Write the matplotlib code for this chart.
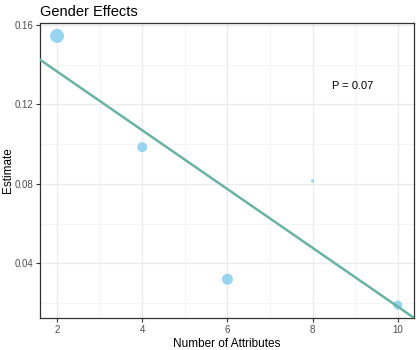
import numpy as np
import matplotlib
matplotlib.use("Agg")
import matplotlib.pyplot as plt

plt.rcParams['font.family'] = ['Liberation Sans', 'DejaVu Sans']

# data
n_attributes = [2, 4, 6, 8, 10]
estimates = [0.1545, 0.0985, 0.032, 0.0815, 0.019]
point_radius = [7.0, 5.0, 5.5, 1.6, 4.5]  # marker radius in px

# fitted line
fit_intercept = 0.1662
fit_slope = -0.0148
p_label = "P = 0.07"

fig = plt.figure(figsize=(4.2, 3.5), dpi=100)
ax = fig.add_axes([40 / 420, 1 - 318 / 350, 374 / 420, 295 / 350])

ax.set_xlim(1.6, 10.38)
ax.set_ylim(0.0125, 0.161)

ax.set_xticks([2, 4, 6, 8, 10])
ax.set_xticks([3, 5, 7, 9], minor=True)
ax.set_yticks([0.04, 0.08, 0.12, 0.16])
ax.set_yticklabels(["0.04", "0.08", "0.12", "0.16"])
ax.set_yticks([0.02, 0.06, 0.10, 0.14], minor=True)

ax.grid(True, which="major", color="#ebebeb", lw=0.9)
ax.grid(True, which="minor", color="#f2f2f2", lw=0.6)
ax.set_axisbelow(True)
ax.tick_params(which="minor", length=0)
ax.tick_params(which="major", length=3, color="#333333", labelsize=7,
               labelcolor="#4d4d4d", pad=2)
for s in ax.spines.values():
    s.set_color("#333333")
    s.set_linewidth(0.9)

sizes = [(r * 72 / 100 * 2) ** 2 for r in point_radius]
ax.scatter(n_attributes, estimates, s=sizes, color="#87cdee", alpha=0.85,
           edgecolors="none", zorder=2)
ax.axline((0, fit_intercept), slope=fit_slope, color="#69b3a2", lw=1.8, zorder=3)

ax.text(8.95, 0.1295, p_label, fontsize=8, ha="center", va="center")

ax.set_xlabel("Number of Attributes", fontsize=8.5, labelpad=2)
ax.set_ylabel("Estimate", fontsize=8.5)
ax.yaxis.set_label_coords(-26 / 374, 0.5)
ax.set_title("Gender Effects", fontsize=10.5, loc="left", pad=5)

fig.savefig("out.png", dpi=100)
